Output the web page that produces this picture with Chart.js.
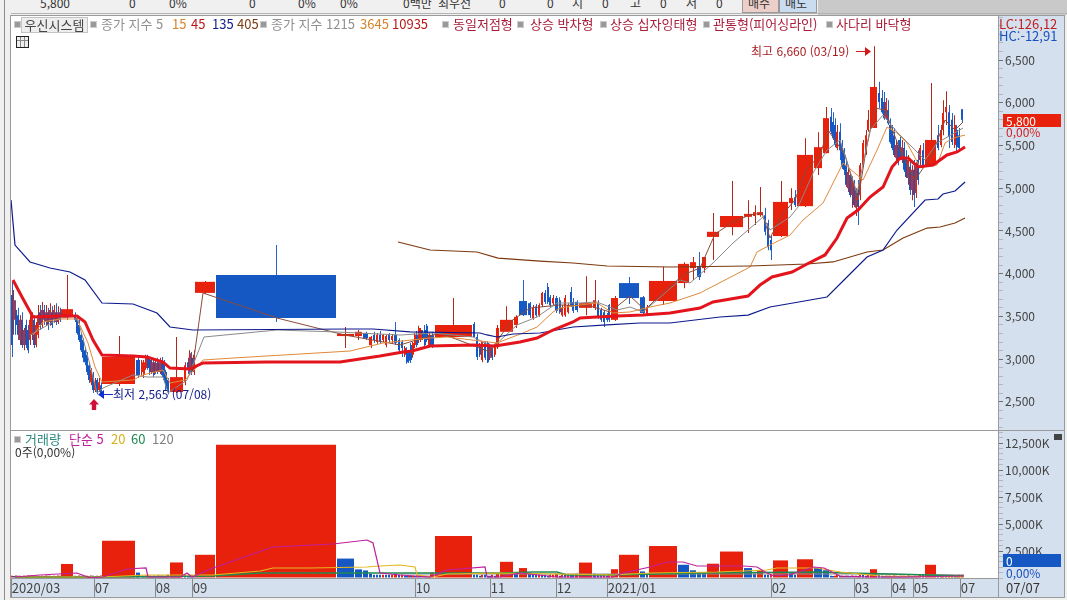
<!DOCTYPE html>
<html lang="ko"><head><meta charset="utf-8">
<style>
html,body{margin:0;padding:0;width:1067px;height:600px;overflow:hidden;background:#f0f0f0;font-family:"Noto Sans CJK KR","Noto Sans",sans-serif}
.a{position:absolute;white-space:nowrap;line-height:14px;font-size:12px}
canvas{position:absolute}
.sq{position:absolute;width:5px;height:5px;background:#999;border:1px solid #ccc;box-sizing:content-box;top:21px}
.l{top:17px;color:#909090;font-size:13px}
.r{color:#a81c38}
</style>
<script src="https://cdn.jsdelivr.net/npm/chart.js@4"></script>
</head><body>
<div class="a" style="left:818px;top:0;width:249px;height:15px;background:#c9c9c9"></div>
<div class="a" style="left:742px;top:0;width:35px;height:12px;background:#edcfc9;border:1px solid #999;border-top:0"></div>
<div class="a" style="left:779px;top:0;width:36px;height:12px;background:#c9dcf0;border:1px solid #999;border-top:0"></div>
<div class="a" style="left:4px;top:0;width:1px;height:600px;background:#8c8c8c"></div>
<div class="a" style="left:10px;top:15px;width:1055px;height:583px;background:#d5e0ee;border:1px solid #9a9a9a;box-sizing:border-box"></div>
<div class="a" style="left:11px;top:13px;width:1056px;height:1px;background:#b4b4b4"></div>
<canvas id="price"></canvas>
<canvas id="vol"></canvas>
<div class="a" style="left:11px;top:430px;width:1053px;height:1px;background:#9a9a9a"></div>
<div class="a" style="left:998px;top:16px;width:1px;height:581px;background:#9a9a9a"></div>
<div id="top"></div>
<div class="sq" style="left:14px"></div>
<div class="a" style="left:21px;top:17px;width:65px;height:14px;background:#eee;border:1px solid #c4c4c4;text-align:center;color:#444;font-size:13px">우신시스템</div>
<div class="sq" style="left:90px"></div><div class="a l" style="left:101px">종가 지수 5</div>
<div class="a l" style="left:172px;color:#d9822b">15</div>
<div class="a l" style="left:191px;color:#c01818">45</div>
<div class="a l" style="left:212px;color:#16208c">135</div>
<div class="a l" style="left:237px;color:#7d3a10">405</div>
<div class="sq" style="left:260px"></div><div class="a l" style="left:271px">종가 지수 1215</div>
<div class="a l" style="left:360px;color:#d9822b">3645</div>
<div class="a l" style="left:392px;color:#b81818">10935</div>
<div class="sq" style="left:442px"></div><div class="a l r" style="left:453px">동일저점형</div>
<div class="sq" style="left:517px"></div><div class="a l r" style="left:530px">상승 박차형</div>
<div class="sq" style="left:600px"></div><div class="a l r" style="left:610px">상승 십자잉태형</div>
<div class="sq" style="left:703px"></div><div class="a l r" style="left:713px">관통형(피어싱라인)</div>
<div class="sq" style="left:826px"></div><div class="a l r" style="left:836px">사다리 바닥형</div>
<div class="a" style="left:16px;top:36px;width:11px;height:10px;border:1px solid #222;background:linear-gradient(#888,#888) 0 3px/100% 1px no-repeat,linear-gradient(#888,#888) 3px 0/1px 100% no-repeat,linear-gradient(#888,#888) 7px 0/1px 100% no-repeat,#eee"></div>
<div class="a" style="left:751px;top:44px;color:#a81c20">최고 6,660 (03/19)</div>
<div class="a" style="left:856px;top:51px;width:10px;height:1px;background:#d81818"></div>
<div class="a" style="left:865px;top:47px;width:6px;height:9px;background:#d81818;clip-path:polygon(0 0,100% 50%,0 100%)"></div>
<div class="a" style="left:113px;top:387px;color:#16208c">최저 2,565 (07/08)</div>
<div class="a" style="left:103px;top:394px;width:10px;height:1px;background:#1030d0"></div>
<div class="a" style="left:98px;top:390px;width:6px;height:9px;background:#1030d0;clip-path:polygon(100% 0,0 50%,100% 100%)"></div>
<div class="a" style="left:89px;top:399px;width:10px;height:11px;background:#d0103a;clip-path:polygon(50% 0,100% 50%,72% 50%,72% 100%,28% 100%,28% 50%,0 50%)"></div>
<div class="a" style="left:999px;top:17px;color:#c02020;font-size:13px">LC:126,12</div>
<div class="a" style="left:999px;top:29px;color:#1850c0;font-size:13px">HC:-12,91</div>
<div class="a" style="left:1003px;top:114px;width:58px;height:13px;background:#e8210c;color:#fff;padding-left:3px;box-sizing:border-box;line-height:13px">5,800</div>
<div class="a" style="left:1006px;top:125px;color:#d02020">0,00%</div>
<div class="a" style="left:1054px;top:434px;width:8px;height:6px;background:#444"></div>
<div class="sq" style="left:14px;top:436px"></div>
<div class="a" style="left:25px;top:432px;color:#2d8a80;font-size:13px">거래량</div>
<div class="a" style="left:69px;top:432px;color:#c0209c;font-size:13px">단순 5</div>
<div class="a" style="left:111px;top:432px;color:#d9b020;font-size:13px">20</div>
<div class="a" style="left:131px;top:432px;color:#1f8a50;font-size:13px">60</div>
<div class="a" style="left:152px;top:432px;color:#808080;font-size:13px">120</div>
<div class="a" style="left:15px;top:445px;color:#333">0주(0,00%)</div>
<div class="a" style="left:1003px;top:554px;width:58px;height:13px;background:#1558c4;color:#fff;padding-left:3px;box-sizing:border-box;line-height:13px">0</div>
<div class="a" style="left:1006px;top:566px;color:#1850c0">0,00%</div>
<div class="a" style="left:1006px;top:581px;color:#333;font-size:13px">07/07</div>
<script>
// Equivolume candles: each candle's width comes from its traded volume (thousand shares)
const volumes=[
205,190,220,200,210,195,215,190,220,205,230,185,210,200,195,215,190,225,200,210,195,215,190,220,205,
1300,
205,190,220,200,215,195,210,190,225,200,195,215,190,220,
3450,500,
205,190,220,200,210,195,215,190,220,200,210,195,205,300,
1440,305,205,190,220,195,2150,12350,
1800,800,700,400,305,300,295,310,300,290,300,400,300,310,
205,195,215,200,210,190,220,205,195,215,200,210,200,500,
3880,305,300,205,300,295,205,200,300,205,400,
1500,500,920,400,300,295,310,300,290,205,300,310,400,205,300,295,310,300,290,400,
1430,400,300,295,310,205,300,815,2150,610,305,2960,1225,715,510,505,1325,2450,920,410,715,305,300,310,
1630,510,305,1735,920,715,
205,195,215,305,200,210,195,215,205,190,220,200,210,195,305,295,205,310,815,
305,205,195,215,200,210,190,220,205,195,215,200,210,190,220,205,195,215,200,210,305,295,
1225,305,205,310,300,305,295,205,195,305,305];
const opens=[
3750,3460,3575,3515,3225,3460,3165,3400,3340,3225,3285,3460,3165,3285,3550,3400,3575,3435,3550,3435,3550,3460,3550,3435,3550,
3495,
3515,3480,3400,3285,3225,3105,3050,2930,2730,2815,2640,2755,2640,2695,
2710,2990,
2850,2815,2895,3015,2990,2850,2965,2850,2965,2850,2990,2965,2850,2755,
2615,2730,2965,2840,3015,2850,3775,3985,
3270,3270,3305,3165,3285,3200,3285,3225,3165,3285,3225,3285,3225,3200,
3050,3105,3085,3165,3050,3165,3285,3225,3225,3305,3340,3390,3165,3285,
3260,3410,3260,3165,2990,3190,3190,3015,3140,3050,3140,
3320,3400,3680,3655,3480,3620,3515,3635,3775,3845,3725,3655,3715,3690,3515,3515,3550,3785,3670,3670,
3600,3600,3655,3575,3550,3515,3635,3460,3890,3725,3515,3680,3890,4065,4090,4065,4430,4545,4665,4675,4685,4685,4590,4395,
4440,4825,4895,4790,5235,5410,
5835,5775,5740,5470,5660,5505,5445,5270,5000,5155,4920,5075,4770,4980,4920,5270,5425,5680,5705,
6115,6055,6010,5820,5915,5740,5680,5620,5355,5505,5565,5330,5470,5355,5120,5250,4980,5215,4945,5330,5330,5445,
5270,5620,5505,5680,5890,5890,5800,5505,5680,5620,5925];
const highs=[
3905,3810,3690,3600,3515,3550,3365,3460,3400,3515,3550,3515,3435,3635,3635,3670,3635,3635,3600,3655,3620,3635,3655,3620,3600,
3985,
3550,3515,3460,3305,3245,3130,3085,2965,2895,2850,2780,2780,2780,2730,
3270,3015,
2990,2990,3050,3050,3025,3015,3015,2990,3015,3015,3025,2990,2875,2780,
3260,2965,3015,3105,3085,3105,3915,4335,
3375,3340,3320,3270,3320,3305,3330,3295,3285,3305,3295,3435,3245,3225,
3155,3140,3105,3190,3200,3305,3330,3390,3365,3340,3400,3410,3305,3320,
3715,3435,3295,3190,3200,3210,3210,3180,3165,3180,3400,
3620,3515,3925,3670,3635,3645,3655,3785,3810,3890,3750,3750,3740,3725,3635,3750,3655,3845,3715,3690,
3970,3925,3690,3600,3575,3540,3645,3740,3960,3740,3635,4080,4135,4195,4255,4195,4710,5085,4860,4800,5015,4770,4630,4450,
5085,5000,4980,5585,5655,5950,
5940,5890,5820,5740,5760,5565,5470,5330,5235,5190,5140,5095,5000,5095,5295,5565,5680,5915,6660,
6245,6150,6125,6055,6030,5820,5740,5705,5565,5565,5620,5565,5540,5445,5390,5330,5270,5330,5305,5445,5505,5530,
6230,5740,5740,6030,6135,5975,5880,5855,5740,5705,5925];
const lows=[
3025,3285,3285,3225,3165,3130,3105,3130,3070,3165,3225,3130,3140,3245,3340,3365,3400,3390,3340,3390,3365,3425,3400,3410,3435,
3460,
3435,3285,3200,3085,2965,2930,2815,2720,2695,2605,2615,2590,2615,2565,
2685,2780,
2815,2780,2875,2875,2815,2825,2790,2825,2825,2825,2790,2730,2640,2590,
2605,2695,2825,2815,2815,2815,3765,3435,
3130,3225,3225,3130,3190,3180,3180,3200,3140,3200,3190,3165,3085,3025,
3025,2945,2955,2955,3015,3130,3140,3190,3200,3225,3140,3200,3140,3130,
3245,3260,2990,3025,2965,2990,2955,2990,2990,3025,3120,
3320,3365,3505,3480,3460,3495,3495,3610,3645,3645,3610,3635,3540,3530,3495,3495,3530,3610,3540,3550,
3515,3575,3470,3435,3375,3435,3435,3445,3645,3515,3505,3635,3830,3925,3925,4010,4160,4450,4475,4570,4665,4450,4275,4160,
4430,4745,4780,4780,5155,5410,
5635,5565,5480,5445,5330,5225,5155,5015,4955,4895,4770,4780,4675,4570,4860,5250,5390,5660,5705,
5940,5870,5800,5800,5740,5520,5445,5365,5330,5270,5330,5295,5190,5120,5040,4920,4860,4780,4885,5040,5270,5250,
5270,5445,5480,5620,5740,5470,5505,5470,5425,5425,5775];
const closes=[
3165,3690,3400,3285,3460,3165,3340,3165,3105,3460,3515,3165,3400,3515,3400,3575,3460,3550,3400,3575,3400,3575,3435,3550,3460,
3585,
3460,3305,3225,3105,3015,2965,2850,2755,2875,2640,2730,2615,2730,2590,
3025,2815,
2965,2965,3015,2895,2850,2965,2815,2955,2850,2965,2815,2755,2660,2615,
2790,2930,2875,3070,2850,3050,3905,3480,
3295,3320,3245,3260,3225,3285,3200,3285,3270,3225,3270,3190,3105,3130,
3130,2965,2980,2990,3190,3285,3165,3365,3340,3245,3165,3225,3285,3155,
3400,3260,3025,3050,3200,3015,2965,3165,3015,3165,3365,
3460,3495,3515,3515,3600,3515,3635,3775,3670,3670,3635,3715,3565,3550,3600,3715,3635,3635,3565,3575,
3655,3690,3495,3460,3435,3460,3460,3715,3715,3540,3610,3915,4115,4135,3960,4195,4490,4675,4700,4720,4720,4490,4310,4275,
4840,4885,4805,5390,5480,5820,
5660,5585,5505,5660,5445,5250,5215,5040,5190,4920,5120,4805,4980,4780,5270,5530,5620,5800,6185,
6010,5890,5820,6010,5760,5540,5470,5390,5505,5305,5355,5480,5215,5130,5330,4980,5215,4920,5250,5095,5470,5270,
5565,5470,5680,5880,5950,5600,5540,5740,5480,5470,5800];

// Moving averages: value read at a cumulative-volume position
const ma5Cum=[18564,19584,27132,34068,39678,43758,48858,50898,52938,55998,59058,61098,63138,64668,66708,68748,70278,71808,73644,75378,76602,77418,78642,79968,81090,82518,83334,85068,86394,87210,88128,89148,90678,92208,93942,95268,96288,97104];
const ma5=[2932,3774,3481,3282,3166,3306,3084,3435,3598,3634,3622,3552,3739,3575,3809,3996,4066,4464,4605,4687,4710,4417,4687,4862,5213,5389,5681,5389,4862,5447,5938,5915,5447,5096,5389,5798,5681,5775];
const ma15Cum=[1938,4998,6732,8058,8772,9384,12444,13872,15504,16014,17952,19686,27132,33252,39678,43044,47124,49164,51612,53652,55692,58038,59772,61812,63138,64464,65892,68238,69258,71604,73644,76704,77418,79458,80274,81804,83232,84558,86292,87618,88944,90372,93228,94452,97104];
const ma15=[3282,3481,3505,2932,2604,2662,2815,2791,2791,2604,2756,3259,3341,3318,3282,3306,3259,3142,3400,3493,3657,3657,3669,3575,3610,3552,3692,3926,3891,4125,4359,4663,4511,4663,4780,5178,5447,5564,4944,5681,5856,5658,5330,5529,5704];
const ma45Cum=[2244,3264,4998,6732,7854,8568,9282,12444,13464,15504,16218,17748,19584,22644,26112,34578,37944,42738,44472,49572,52224,53652,55284,55998,58038,59772,61404,63138,65178,67218,70278,75378,76092,77418,79458,80784,82824,84864,86904,88332,89352,90372,91392,92718,94452,95268,96084,97308];
const ma45=[3282,3435,3470,3470,3189,2908,2733,2756,2815,2873,2721,2756,2990,3013,3037,3095,3189,3247,3259,3189,3306,3376,3552,3598,3634,3657,3540,3552,3610,3657,3774,4078,4254,4335,4452,4628,4827,5295,5096,5447,5716,5646,5529,5248,5272,5529,5587,5622];
const ma135Cum=[204,1122,2244,4998,6732,7548,8364,9282,12444,13872,15504,16218,18258,19584,26112,33558,37638,39984,40902,42738,47124,49368,51918,53652,55284,57324,58038,59772,61812,64464,67218,70278,71604,75174,76398,77622,79662,81192,83028,84252,85272,86394,87618,88944,89862,90678,91494,92514,94044,95472,96492,97308];
const ma135=[3926,3727,3493,3505,3505,3435,3224,3049,3037,3025,2966,2896,2885,2955,2966,2966,3037,3084,3095,3154,3166,3154,3201,3247,3341,3435,3481,3493,3505,3516,3540,3598,3669,3739,3867,3961,4020,4113,4219,4417,4651,4745,4897,5014,5248,5353,5353,5248,5272,5389,5424,5482];
const ma405Cum=[0,408,1938,3978,6018,7548,9282,12444,14892,16218,18564,34578,36924,40698,47838,48552,49572,51204,53958,57324,60792,64158,67218,72318,75174,77418,79764,83232,85272,87312,88944,90372,93228,94554,95064,96288,97308];
const ma405=[4862,4335,4137,4066,4020,3926,3657,3645,3540,3376,3341,3353,3353,3318,3306,3283,3259,3294,3306,3376,3400,3423,3423,3493,3516,3610,3657,3727,3961,4195,4277,4511,4862,4874,4932,4967,5073];
const ma1215Cum=[39474,40698,42738,47532,49674,53958,57324,60792,67218,75378,81192,83844,87312,88944,90984,93432,94758,96288,97308];
const ma1215=[4371,4336,4277,4254,4183,4148,4125,4090,4078,4090,4113,4137,4254,4277,4417,4534,4546,4593,4651];

const vol5Cum=[408,2958,6732,8058,9384,11832,13770,13974,17238,17952,18462,20604,26724,32844,36312,36924,37638,39678,42738,44472,48348,48552,49878,51918,55692,61404,62424,65178,66912,68544,69972,72012,74766,76092,77112,77826,79458,81906,82926,84558,87312,90678,97206];
const vol5=[93,278,463,10,93,833,926,93,93,463,93,926,2870,3148,3519,3241,463,278,93,740,1019,93,93,463,93,93,463,1019,1482,1482,1111,1111,1111,1019,463,185,300,1019,926,185,93,93,185];
const vol20Cum=[408,9078,13872,20604,25398,26724,30498,36312,37638,39678,41208,41412,43044,44472,49878,55692,61404,65178,72012,77112,78132,82212,84558,88638,97206];
const vol20=[93,93,278,278,648,926,926,1019,1111,1204,1019,278,93,370,463,370,278,463,556,740,926,926,556,185,93];
const vol60Cum=[408,9384,20604,25398,37332,49878,53244,55692,56712,61404,70278,82212,85272,89964,97206];
const vol60=[46,93,185,463,463,463,556,556,278,278,463,556,463,370,185];
const vol120Cum=[39678,65178,85578,97206];
const vol120=[370,370,370,278];

const monthLabels=['2020/03','07','08','09','10','11','12','2021/01','02','03','04','05','07'];
const monthCum=[0,8466,14688,18462,41208,48858,55590,60792,77520,85986,89760,92004,96798];
const priceLabels=[6500,6000,5500,5000,4500,4000,3500,3000,2500];
const volumeLabels=[12500,10000,7500,5000,2500];
const topRow=[['5,800',40],['0',129],['0%',169],['0',249],['0%',298],['0%',340],['0백만',403],['최우선',438],['0',499],['0',547],['시',572],['0',602],['고',630],['0',660],['저',686],['0',716],['매수',748],['매도',785]];

const T=document.getElementById('top');
topRow.forEach(([t,x])=>{const d=document.createElement('div');d.className='a';d.style.cssText=`left:${x}px;top:-4px;color:#333`;d.textContent=t;T.appendChild(d)});

const FONT='"Noto Sans CJK KR","Noto Sans",sans-serif';
const XMAX=100670;
class VBar extends Chart.BarController{
  _calculateBarIndexPixels(i){
    const r=this.getDataset().data[i],s=this._cachedMeta.iScale;
    const a=s.getPixelForValue(r.x0),b=s.getPixelForValue(r.x1);
    if(this.getDataset().wick){const c=Math.round((a+b)/2-0.5)+0.5;return{base:c-0.5,head:c+0.5,center:c,size:1}}
    const L=Math.round(a);let R=Math.round(b-1);if(R<L+2)R=L+2;
    return{base:L,head:R,center:(L+R)/2,size:R-L};
  }
}
VBar.id='vbar';VBar.defaults={};VBar.overrides={};
Chart.register(VBar);

let cum=0;const spans=volumes.map(v=>{const s=[cum,cum+v];cum+=v;return s});
const RED='#e8210c',BLUE='#1558c4';
const isUp=i=>closes[i]>=opens[i];
const bodies=opens.map((o,i)=>({x:(spans[i][0]+spans[i][1])/2,x0:spans[i][0],x1:spans[i][1],y:[o,closes[i]]}));
const wicks=opens.map((o,i)=>({x:(spans[i][0]+spans[i][1])/2,x0:spans[i][0],x1:spans[i][1],y:[lows[i],highs[i]]}));
const volBars=volumes.map((v,i)=>({x:(spans[i][0]+spans[i][1])/2,x0:spans[i][0],x1:spans[i][1],y:[0,v]}));
const pts=(xs,ys)=>xs.map((x,i)=>({x,y:ys[i]}));
const line=(xs,ys,color,w,order)=>({type:'line',data:pts(xs,ys),borderColor:color,borderWidth:w,pointRadius:0,tension:0,fill:false,order});
const whitePlot={id:'whitePlot',beforeDraw(c){const a=c.chartArea;c.ctx.save();c.ctx.fillStyle='#fff';c.ctx.fillRect(a.left,a.top,a.right-a.left,a.bottom-a.top);c.ctx.restore()}};
const fmt=v=>String(v).replace(/\B(?=(\d{3})+$)/g,',');
function yAxis(min,max,step,labels,suffix){return{type:'linear',position:'right',min,max,
  afterFit:s=>{s.width=66;s.paddingTop=0;s.paddingBottom=0},
  afterBuildTicks:s=>{const out=[];for(let v=Math.ceil(min/step)*step;v<=max;v+=step)out.push({value:v});s.ticks=out},
  grid:{drawOnChartArea:false,drawTicks:true,tickLength:5,tickColor:c=>labels.includes(c.tick.value)?'#707070':'#b0b8c4'},
  border:{display:false},
  ticks:{autoSkip:false,padding:2,color:'#444',align:'center',crossAlign:'near',font:{family:FONT,size:12},
    callback:v=>labels.includes(v)?fmt(v)+suffix:''}}}
Chart.defaults.animation=false;

const c1=document.getElementById('price');
c1.style.cssText='left:11px;top:16px';c1.width=1053;c1.height=414;c1.style.width='1053px';c1.style.height='414px';
new Chart(c1,{type:'vbar',plugins:[whitePlot],data:{datasets:[
  {type:'vbar',wick:true,data:wicks,backgroundColor:wicks.map((_,i)=>isUp(i)?'#b3281c':'#2464c8'),borderWidth:0,inflateAmount:0,minBarLength:1,order:9},
  {type:'vbar',data:bodies,backgroundColor:bodies.map((_,i)=>isUp(i)?RED:BLUE),borderWidth:0,inflateAmount:0,minBarLength:2,order:8},
  line(ma1215Cum,ma1215,'#7d3a10',1.2,5),
  line(ma405Cum,ma405,'#0c1a8c',1.2,4),
  line(ma45Cum,ma45,'#e08a3a',1,6),
  line(ma15Cum,ma15,'#8a8a8a',1,7),
  line(ma5Cum,ma5,'#8c4a3a',1,7),
  line(ma135Cum,ma135,'#e3141c',3,1)
]},options:{responsive:false,animation:false,layout:{padding:0},events:[],
  plugins:{legend:{display:false},tooltip:{enabled:false}},
  scales:{x:{type:'linear',offset:false,min:0,max:XMAX,display:false,grid:{offset:false}},
    y:yAxis(2171,7015,100,priceLabels,'')}}});

const c2=document.getElementById('vol');
c2.style.cssText='left:11px;top:431px';c2.width=1053;c2.height=166;c2.style.width='1053px';c2.style.height='166px';
new Chart(c2,{type:'vbar',plugins:[whitePlot],data:{datasets:[
  {type:'vbar',data:volBars,backgroundColor:volumes.map((v,i)=>(i>0&&v<volumes[i-1])?BLUE:RED),borderWidth:0,inflateAmount:0,order:9},
  line(vol120Cum,vol120,'#909090',1,4),
  line(vol60Cum,vol60,'#1f8a50',1.5,3),
  line(vol20Cum,vol20,'#e3b81e',1.2,2),
  line(vol5Cum,vol5,'#c0209c',1.2,1)
]},options:{responsive:false,animation:false,layout:{padding:0},events:[],
  plugins:{legend:{display:false},tooltip:{enabled:false}},
  scales:{x:{type:'linear',offset:false,min:0,max:XMAX,position:'bottom',
      afterFit:s=>{s.height=19;s.paddingLeft=0;s.paddingRight=0},
      afterBuildTicks:s=>{s.ticks=monthCum.map(value=>({value}))},
      grid:{drawOnChartArea:false,offset:false,tickLength:19,tickColor:'#8a8a8a'},
      border:{display:true,color:'#9a9a9a'},
      ticks:{autoSkip:false,maxRotation:0,minRotation:0,align:'start',padding:-17,color:'#444',font:{family:FONT,size:13},
        callback:(v,i)=>'\u200a'+monthLabels[i]}},
    y:yAxis(0,13612,500,volumeLabels,'K')}}});
</script>
</body></html>
